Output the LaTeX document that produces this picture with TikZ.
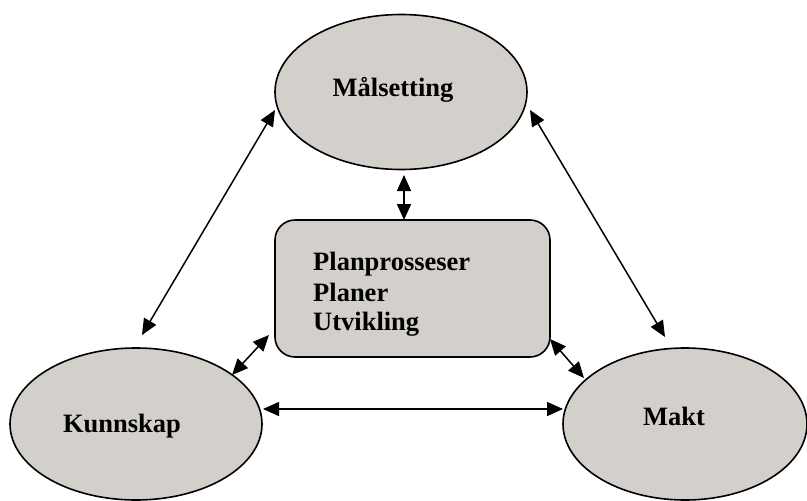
\documentclass[tikz,border=0pt]{standalone}
\usepackage{fontspec}
\setmainfont{Liberation Serif}
\usetikzlibrary{arrows.meta,shapes.geometric}
\definecolor{fillgray}{RGB}{211,207,202}
\begin{document}
\begin{tikzpicture}[x=1pt,y=-1pt,
  oval/.style={ellipse,draw=black,line width=1.6pt,fill=fillgray,inner sep=0pt},
  planbox/.style={rectangle,rounded corners=20pt,draw=black,line width=1.6pt,fill=fillgray,inner sep=0pt},
  lbl/.style={font=\fontsize{26.5}{30}\selectfont\bfseries,inner sep=0pt},
  link/.style={line width=1.5pt,{Triangle[length=16pt,width=14pt]}-{Triangle[length=16pt,width=14pt]}}]
\useasboundingbox (0,0) rectangle (807,501);
\node[oval,minimum width=252pt,minimum height=155pt] (m) at (401,92) {};
\node[oval,minimum width=252pt,minimum height=152pt] (k) at (136,424) {};
\node[oval,minimum width=244pt,minimum height=152pt] (p) at (685,424) {};
\node[planbox,minimum width=275pt,minimum height=137pt] (plan) at (412.5,288.5) {};
\node[lbl] (mt) at (393,90) {Målsetting};
\node[lbl] (kt) at (122,426) {Kunnskap};
\node[lbl] (pt) at (674,416) {Makt};
\node[lbl,anchor=base west] (t1) at (313,270) {Planprosseser};
\node[lbl,anchor=base west] (t2) at (313,301) {Planer};
\node[lbl,anchor=base west] (t3) at (313,330) {Utvikling};
% connector ends
\coordinate (mK) at (275,110);
\coordinate (kM) at (142,335);
\coordinate (mP) at (530,110);
\coordinate (pM) at (665,337);
\coordinate (mB) at (404,175);
\coordinate (bM) at (404,220);
\coordinate (kB) at (232,375);
\coordinate (bK) at (269,335);
\coordinate (pB) at (584,378);
\coordinate (bP) at (550,339);
\coordinate (kP) at (263,409);
\coordinate (pK) at (563,409);
\draw[link] (mK) -- (kM);
\draw[link] (mP) -- (pM);
\draw[link] (mB) -- (bM);
\draw[link] (kB) -- (bK);
\draw[link] (pB) -- (bP);
\draw[link] (kP) -- (pK);
\end{tikzpicture}
\end{document}
